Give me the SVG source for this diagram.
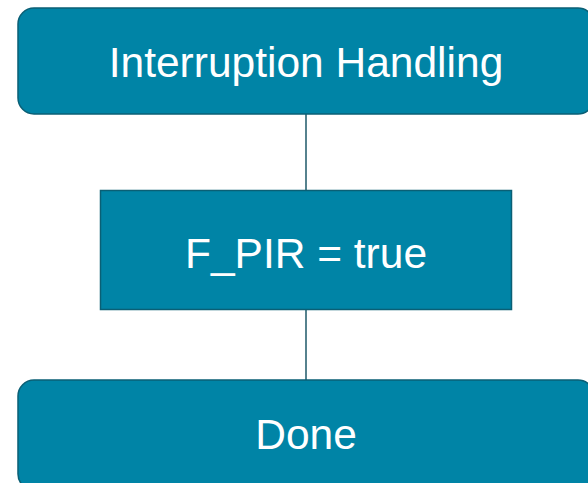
<svg xmlns="http://www.w3.org/2000/svg" width="588" height="483" viewBox="0 0 588 483">
<style>
.box{fill:#0084A6;stroke:#0A5F75;stroke-width:1.5}
.lbl{font-family:"Liberation Sans",Arial,sans-serif;font-size:42.5px;fill:#FFFFFF;text-anchor:middle}
.edge{stroke:#1E5868;stroke-width:1.5;fill:none}
</style>
<rect width="588" height="483" fill="#FFFFFF"/>
<g id="connectors">
<line class="edge" x1="306" y1="114" x2="306" y2="190"/>
<line class="edge" x1="306" y1="310" x2="306" y2="380"/>
</g>
<g id="node-interruption">
<rect class="box" x="18" y="8" width="576" height="106" rx="16" ry="16"/>
<text class="lbl" x="306" y="77">Interruption Handling</text>
</g>
<g id="node-fpir">
<rect class="box" x="100.5" y="190.5" width="411" height="119"/>
<text class="lbl" x="306" y="268">F_PIR = true</text>
</g>
<g id="node-done">
<rect class="box" x="18" y="380" width="576" height="110" rx="16" ry="16"/>
<text class="lbl" x="306" y="449">Done</text>
</g>
</svg>
